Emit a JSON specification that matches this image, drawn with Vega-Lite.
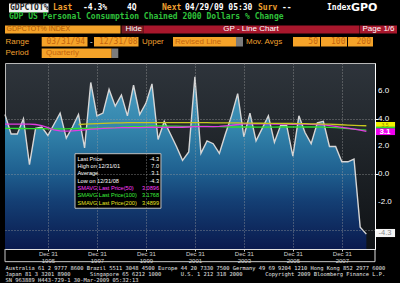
{
"$schema": "https://vega.github.io/schema/vega-lite/v6.json",
"background": "#000000",
"padding": {"left": 1, "top": 0, "right": 0, "bottom": 0},
"spacing": 0,
"config": {"view": {"stroke": null}, "font": "Liberation Sans", "axis": {"labelOverlap": false}},
"datasets": {
"gdp": [
{"date":"1994-03-31","value":4.3},{"date":"1994-06-30","value":2.9},{"date":"1994-09-30","value":2.9},{"date":"1994-12-31","value":4.0},
{"date":"1995-03-31","value":0.7},{"date":"1995-06-30","value":3.3},{"date":"1995-09-30","value":3.4},{"date":"1995-12-31","value":2.8},
{"date":"1996-03-31","value":3.6},{"date":"1996-06-30","value":4.4},{"date":"1996-09-30","value":2.6},{"date":"1996-12-31","value":3.4},
{"date":"1997-03-31","value":4.3},{"date":"1997-06-30","value":1.9},{"date":"1997-09-30","value":6.6},{"date":"1997-12-31","value":4.2},
{"date":"1998-03-31","value":4.4},{"date":"1998-06-30","value":6.1},{"date":"1998-09-30","value":4.9},{"date":"1998-12-31","value":5.7},
{"date":"1999-03-31","value":4.2},{"date":"1999-06-30","value":6.4},{"date":"1999-09-30","value":4.3},{"date":"1999-12-31","value":5.1},
{"date":"2000-03-31","value":6.5},{"date":"2000-06-30","value":2.5},{"date":"2000-09-30","value":3.8},{"date":"2000-12-31","value":2.9},
{"date":"2001-03-31","value":2.0},{"date":"2001-06-30","value":1.0},{"date":"2001-09-30","value":1.6},{"date":"2001-12-31","value":7.0},
{"date":"2002-03-31","value":1.5},{"date":"2002-06-30","value":2.4},{"date":"2002-09-30","value":2.2},{"date":"2002-12-31","value":1.5},
{"date":"2003-03-31","value":2.9},{"date":"2003-06-30","value":4.2},{"date":"2003-09-30","value":5.8},{"date":"2003-12-31","value":2.7},
{"date":"2004-03-31","value":4.4},{"date":"2004-06-30","value":2.4},{"date":"2004-09-30","value":3.3},{"date":"2004-12-31","value":4.2},
{"date":"2005-03-31","value":2.3},{"date":"2005-06-30","value":3.5},{"date":"2005-09-30","value":3.5},{"date":"2005-12-31","value":1.3},
{"date":"2006-03-31","value":4.2},{"date":"2006-06-30","value":3.0},{"date":"2006-09-30","value":2.2},{"date":"2006-12-31","value":3.7},
{"date":"2007-03-31","value":3.8},{"date":"2007-06-30","value":2.0},{"date":"2007-09-30","value":2.0},{"date":"2007-12-31","value":0.9},
{"date":"2008-03-31","value":0.9},{"date":"2008-06-30","value":1.1},{"date":"2008-09-30","value":-3.8},{"date":"2008-12-31","value":-4.3}
],
"ma": [
{"date":"1994-03-31","series":"100","value":3.30},{"date":"1994-06-30","series":"100","value":3.30},{"date":"1994-09-30","series":"100","value":3.29},{"date":"1994-12-31","series":"100","value":3.29},
{"date":"1995-03-31","series":"100","value":3.28},{"date":"1995-06-30","series":"100","value":3.28},{"date":"1995-09-30","series":"100","value":3.28},{"date":"1995-12-31","series":"100","value":3.27},
{"date":"1996-03-31","series":"100","value":3.27},{"date":"1996-06-30","series":"100","value":3.27},{"date":"1996-09-30","series":"100","value":3.27},{"date":"1996-12-31","series":"100","value":3.28},
{"date":"1997-03-31","series":"100","value":3.29},{"date":"1997-06-30","series":"100","value":3.30},{"date":"1997-09-30","series":"100","value":3.31},{"date":"1997-12-31","series":"100","value":3.32},
{"date":"1998-03-31","series":"100","value":3.33},{"date":"1998-06-30","series":"100","value":3.35},{"date":"1998-09-30","series":"100","value":3.36},{"date":"1998-12-31","series":"100","value":3.38},
{"date":"1999-03-31","series":"100","value":3.40},{"date":"1999-06-30","series":"100","value":3.42},{"date":"1999-09-30","series":"100","value":3.43},{"date":"1999-12-31","series":"100","value":3.45},
{"date":"2000-03-31","series":"100","value":3.47},{"date":"2000-06-30","series":"100","value":3.47},{"date":"2000-09-30","series":"100","value":3.47},{"date":"2000-12-31","series":"100","value":3.46},
{"date":"2001-03-31","series":"100","value":3.46},{"date":"2001-06-30","series":"100","value":3.45},{"date":"2001-09-30","series":"100","value":3.45},{"date":"2001-12-31","series":"100","value":3.46},
{"date":"2002-03-31","series":"100","value":3.45},{"date":"2002-06-30","series":"100","value":3.44},{"date":"2002-09-30","series":"100","value":3.43},{"date":"2002-12-31","series":"100","value":3.42},
{"date":"2003-03-31","series":"100","value":3.41},{"date":"2003-06-30","series":"100","value":3.40},{"date":"2003-09-30","series":"100","value":3.40},{"date":"2003-12-31","series":"100","value":3.40},
{"date":"2004-03-31","series":"100","value":3.40},{"date":"2004-06-30","series":"100","value":3.39},{"date":"2004-09-30","series":"100","value":3.39},{"date":"2004-12-31","series":"100","value":3.39},
{"date":"2005-03-31","series":"100","value":3.39},{"date":"2005-06-30","series":"100","value":3.40},{"date":"2005-09-30","series":"100","value":3.40},{"date":"2005-12-31","series":"100","value":3.40},
{"date":"2006-03-31","series":"100","value":3.40},{"date":"2006-06-30","series":"100","value":3.40},{"date":"2006-09-30","series":"100","value":3.40},{"date":"2006-12-31","series":"100","value":3.40},
{"date":"2007-03-31","series":"100","value":3.39},{"date":"2007-06-30","series":"100","value":3.37},{"date":"2007-09-30","series":"100","value":3.35},{"date":"2007-12-31","series":"100","value":3.32},
{"date":"2008-03-31","series":"100","value":3.29},{"date":"2008-06-30","series":"100","value":3.25},{"date":"2008-09-30","series":"100","value":3.21},{"date":"2008-12-31","series":"100","value":3.18},
{"date":"1994-03-31","series":"50","value":3.60},{"date":"1994-06-30","series":"50","value":3.60},{"date":"1994-09-30","series":"50","value":3.60},{"date":"1994-12-31","series":"50","value":3.60},
{"date":"1995-03-31","series":"50","value":3.60},{"date":"1995-06-30","series":"50","value":3.58},{"date":"1995-09-30","series":"50","value":3.50},{"date":"1995-12-31","series":"50","value":3.35},
{"date":"1996-03-31","series":"50","value":3.20},{"date":"1996-06-30","series":"50","value":3.12},{"date":"1996-09-30","series":"50","value":3.10},{"date":"1996-12-31","series":"50","value":3.12},
{"date":"1997-03-31","series":"50","value":3.15},{"date":"1997-06-30","series":"50","value":3.20},{"date":"1997-09-30","series":"50","value":3.24},{"date":"1997-12-31","series":"50","value":3.27},
{"date":"1998-03-31","series":"50","value":3.30},{"date":"1998-06-30","series":"50","value":3.32},{"date":"1998-09-30","series":"50","value":3.33},{"date":"1998-12-31","series":"50","value":3.35},
{"date":"1999-03-31","series":"50","value":3.35},{"date":"1999-06-30","series":"50","value":3.36},{"date":"1999-09-30","series":"50","value":3.36},{"date":"1999-12-31","series":"50","value":3.37},
{"date":"2000-03-31","series":"50","value":3.38},{"date":"2000-06-30","series":"50","value":3.37},{"date":"2000-09-30","series":"50","value":3.37},{"date":"2000-12-31","series":"50","value":3.38},
{"date":"2001-03-31","series":"50","value":3.38},{"date":"2001-06-30","series":"50","value":3.38},{"date":"2001-09-30","series":"50","value":3.40},{"date":"2001-12-31","series":"50","value":3.42},
{"date":"2002-03-31","series":"50","value":3.42},{"date":"2002-06-30","series":"50","value":3.43},{"date":"2002-09-30","series":"50","value":3.43},{"date":"2002-12-31","series":"50","value":3.45},
{"date":"2003-03-31","series":"50","value":3.48},{"date":"2003-06-30","series":"50","value":3.52},{"date":"2003-09-30","series":"50","value":3.58},{"date":"2003-12-31","series":"50","value":3.62},
{"date":"2004-03-31","series":"50","value":3.63},{"date":"2004-06-30","series":"50","value":3.62},{"date":"2004-09-30","series":"50","value":3.62},{"date":"2004-12-31","series":"50","value":3.62},
{"date":"2005-03-31","series":"50","value":3.61},{"date":"2005-06-30","series":"50","value":3.60},{"date":"2005-09-30","series":"50","value":3.60},{"date":"2005-12-31","series":"50","value":3.59},
{"date":"2006-03-31","series":"50","value":3.60},{"date":"2006-06-30","series":"50","value":3.60},{"date":"2006-09-30","series":"50","value":3.59},{"date":"2006-12-31","series":"50","value":3.58},
{"date":"2007-03-31","series":"50","value":3.56},{"date":"2007-06-30","series":"50","value":3.50},{"date":"2007-09-30","series":"50","value":3.44},{"date":"2007-12-31","series":"50","value":3.38},
{"date":"2008-03-31","series":"50","value":3.32},{"date":"2008-06-30","series":"50","value":3.25},{"date":"2008-09-30","series":"50","value":3.17},{"date":"2008-12-31","series":"50","value":3.09},
{"date":"1997-03-31","series":"200","value":3.58},{"date":"1997-06-30","series":"200","value":3.60},{"date":"1997-09-30","series":"200","value":3.62},{"date":"1997-12-31","series":"200","value":3.64},
{"date":"1998-03-31","series":"200","value":3.66},{"date":"1998-06-30","series":"200","value":3.68},{"date":"1998-09-30","series":"200","value":3.69},{"date":"1998-12-31","series":"200","value":3.70},
{"date":"1999-03-31","series":"200","value":3.71},{"date":"1999-06-30","series":"200","value":3.72},{"date":"1999-09-30","series":"200","value":3.72},{"date":"1999-12-31","series":"200","value":3.72},
{"date":"2000-03-31","series":"200","value":3.72},{"date":"2000-06-30","series":"200","value":3.72},{"date":"2000-09-30","series":"200","value":3.72},{"date":"2000-12-31","series":"200","value":3.72},
{"date":"2001-03-31","series":"200","value":3.72},{"date":"2001-06-30","series":"200","value":3.72},{"date":"2001-09-30","series":"200","value":3.71},{"date":"2001-12-31","series":"200","value":3.72},
{"date":"2002-03-31","series":"200","value":3.71},{"date":"2002-06-30","series":"200","value":3.71},{"date":"2002-09-30","series":"200","value":3.70},{"date":"2002-12-31","series":"200","value":3.70},
{"date":"2003-03-31","series":"200","value":3.70},{"date":"2003-06-30","series":"200","value":3.69},{"date":"2003-09-30","series":"200","value":3.69},{"date":"2003-12-31","series":"200","value":3.68},
{"date":"2004-03-31","series":"200","value":3.68},{"date":"2004-06-30","series":"200","value":3.67},{"date":"2004-09-30","series":"200","value":3.67},{"date":"2004-12-31","series":"200","value":3.66},
{"date":"2005-03-31","series":"200","value":3.66},{"date":"2005-06-30","series":"200","value":3.66},{"date":"2005-09-30","series":"200","value":3.65},{"date":"2005-12-31","series":"200","value":3.65},
{"date":"2006-03-31","series":"200","value":3.64},{"date":"2006-06-30","series":"200","value":3.64},{"date":"2006-09-30","series":"200","value":3.63},{"date":"2006-12-31","series":"200","value":3.62},
{"date":"2007-03-31","series":"200","value":3.61},{"date":"2007-06-30","series":"200","value":3.60},{"date":"2007-09-30","series":"200","value":3.58},{"date":"2007-12-31","series":"200","value":3.56},
{"date":"2008-03-31","series":"200","value":3.54},{"date":"2008-06-30","series":"200","value":3.52},{"date":"2008-09-30","series":"200","value":3.50},{"date":"2008-12-31","series":"200","value":3.49}
]
},
"vconcat": [
{
"width": 395, "height": 62,
"view": {"stroke": null},
"data": {"values": [{}]},
"layer": [
{"mark": {"type": "rect", "fill": "#f0f0f0"}, "encoding": {"x": {"datum": 1.01, "type": "quantitative", "scale": {"domain": [0, 100]}, "axis": null}, "x2": {"datum": 11.01}, "y": {"datum": 5.65, "type": "quantitative", "scale": {"domain": [0, 100], "reverse": true}, "axis": null}, "y2": {"datum": 20.16}}},
{"mark": {"type": "rect", "fill": "#f5a329"}, "encoding": {"x": {"datum": 0, "type": "quantitative", "axis": null}, "x2": {"datum": 29.24}, "y": {"datum": 41.13, "type": "quantitative", "axis": null}, "y2": {"datum": 54.03}}},
{"mark": {"type": "rect", "fill": "#7a1b22"}, "encoding": {"x": {"datum": 29.49, "type": "quantitative", "axis": null}, "x2": {"datum": 35.06}, "y": {"datum": 41.13, "type": "quantitative", "axis": null}, "y2": {"datum": 54.03}}},
{"mark": {"type": "rect", "fill": "#a8172c"}, "encoding": {"x": {"datum": 35.06, "type": "quantitative", "axis": null}, "x2": {"datum": 89.62}, "y": {"datum": 41.13, "type": "quantitative", "axis": null}, "y2": {"datum": 54.03}}},
{"mark": {"type": "rect", "fill": "#a8172c"}, "encoding": {"x": {"datum": 89.75, "type": "quantitative", "axis": null}, "x2": {"datum": 99.24}, "y": {"datum": 41.13, "type": "quantitative", "axis": null}, "y2": {"datum": 54.03}}},
{"mark": {"type": "rect", "fill": "#f5a329"}, "encoding": {"x": {"datum": 9.29, "type": "quantitative", "axis": null}, "x2": {"datum": 20.89}, "y": {"datum": 59.68, "type": "quantitative", "axis": null}, "y2": {"datum": 75.0}}},
{"mark": {"type": "rect", "fill": "#f5a329"}, "encoding": {"x": {"datum": 22.53, "type": "quantitative", "axis": null}, "x2": {"datum": 33.8}, "y": {"datum": 59.68, "type": "quantitative", "axis": null}, "y2": {"datum": 75.0}}},
{"mark": {"type": "rect", "fill": "#f5a329"}, "encoding": {"x": {"datum": 42.53, "type": "quantitative", "axis": null}, "x2": {"datum": 58.48}, "y": {"datum": 59.68, "type": "quantitative", "axis": null}, "y2": {"datum": 75.0}}},
{"mark": {"type": "rect", "fill": "#7c7c7c"}, "encoding": {"x": {"datum": 58.48, "type": "quantitative", "axis": null}, "x2": {"datum": 60.25}, "y": {"datum": 59.68, "type": "quantitative", "axis": null}, "y2": {"datum": 75.0}}},
{"mark": {"type": "rect", "fill": "#f5a329"}, "encoding": {"x": {"datum": 72.91, "type": "quantitative", "axis": null}, "x2": {"datum": 79.75}, "y": {"datum": 59.68, "type": "quantitative", "axis": null}, "y2": {"datum": 75.0}}},
{"mark": {"type": "rect", "fill": "#f5a329"}, "encoding": {"x": {"datum": 80.0, "type": "quantitative", "axis": null}, "x2": {"datum": 86.58}, "y": {"datum": 59.68, "type": "quantitative", "axis": null}, "y2": {"datum": 75.0}}},
{"mark": {"type": "rect", "fill": "#f5a329"}, "encoding": {"x": {"datum": 86.84, "type": "quantitative", "axis": null}, "x2": {"datum": 93.16}, "y": {"datum": 59.68, "type": "quantitative", "axis": null}, "y2": {"datum": 75.0}}},
{"mark": {"type": "rect", "fill": "#f5a329"}, "encoding": {"x": {"datum": 9.29, "type": "quantitative", "axis": null}, "x2": {"datum": 27.01}, "y": {"datum": 78.23, "type": "quantitative", "axis": null}, "y2": {"datum": 93.55}}},
{"mark": {"type": "rect", "fill": "#7c7c7c"}, "encoding": {"x": {"datum": 27.01, "type": "quantitative", "axis": null}, "x2": {"datum": 28.68}, "y": {"datum": 78.23, "type": "quantitative", "axis": null}, "y2": {"datum": 93.55}}},
{"mark": {"type": "text", "text": "GDPCTOT%", "font": "DejaVu Sans Mono", "fontWeight": "bold", "fontSize": 8, "fill": "#202020", "align": "left", "baseline": "middle"}, "encoding": {"x": {"datum": 1.27, "type": "quantitative", "axis": null}, "y": {"datum": 12.9, "type": "quantitative", "axis": null}}},
{"mark": {"type": "text", "text": "Last", "font": "DejaVu Sans Mono", "fontWeight": "bold", "fontSize": 8, "fill": "#f0a030", "align": "left", "baseline": "middle"}, "encoding": {"x": {"datum": 12.15, "type": "quantitative", "axis": null}, "y": {"datum": 12.9, "type": "quantitative", "axis": null}}},
{"mark": {"type": "text", "text": "-4.3%", "font": "DejaVu Sans Mono", "fontWeight": "bold", "fontSize": 8, "fill": "#ffffff", "align": "left", "baseline": "middle"}, "encoding": {"x": {"datum": 19.75, "type": "quantitative", "axis": null}, "y": {"datum": 12.9, "type": "quantitative", "axis": null}}},
{"mark": {"type": "text", "text": "4Q", "font": "DejaVu Sans Mono", "fontWeight": "bold", "fontSize": 8, "fill": "#ffffff", "align": "left", "baseline": "middle"}, "encoding": {"x": {"datum": 30.89, "type": "quantitative", "axis": null}, "y": {"datum": 12.9, "type": "quantitative", "axis": null}}},
{"mark": {"type": "text", "text": "Next", "font": "DejaVu Sans Mono", "fontWeight": "bold", "fontSize": 8, "fill": "#f0a030", "align": "left", "baseline": "middle"}, "encoding": {"x": {"datum": 39.75, "type": "quantitative", "axis": null}, "y": {"datum": 12.9, "type": "quantitative", "axis": null}}},
{"mark": {"type": "text", "text": "04/29/09 05:30", "font": "DejaVu Sans Mono", "fontWeight": "bold", "fontSize": 8, "fill": "#ffffff", "align": "left", "baseline": "middle"}, "encoding": {"x": {"datum": 45.57, "type": "quantitative", "axis": null}, "y": {"datum": 12.9, "type": "quantitative", "axis": null}}},
{"mark": {"type": "text", "text": "Surv", "font": "DejaVu Sans Mono", "fontWeight": "bold", "fontSize": 8, "fill": "#f0a030", "align": "left", "baseline": "middle"}, "encoding": {"x": {"datum": 64.05, "type": "quantitative", "axis": null}, "y": {"datum": 12.9, "type": "quantitative", "axis": null}}},
{"mark": {"type": "text", "text": "--", "font": "DejaVu Sans Mono", "fontWeight": "bold", "fontSize": 8, "fill": "#ffffff", "align": "left", "baseline": "middle"}, "encoding": {"x": {"datum": 70.13, "type": "quantitative", "axis": null}, "y": {"datum": 12.9, "type": "quantitative", "axis": null}}},
{"mark": {"type": "text", "text": "Index", "font": "DejaVu Sans Mono", "fontWeight": "bold", "fontSize": 8, "fill": "#ffffff", "align": "left", "baseline": "middle"}, "encoding": {"x": {"datum": 81.52, "type": "quantitative", "axis": null}, "y": {"datum": 12.9, "type": "quantitative", "axis": null}}},
{"mark": {"type": "text", "text": "GPO", "font": "DejaVu Sans", "fontWeight": "bold", "fontSize": 11, "fill": "#ffffff", "align": "left", "baseline": "middle"}, "encoding": {"x": {"datum": 87.6, "type": "quantitative", "axis": null}, "y": {"datum": 13.7, "type": "quantitative", "axis": null}}},
{"mark": {"type": "text", "text": "GDP US Personal Consumption Chained 2000 Dollars % Change", "font": "DejaVu Sans Mono", "fontWeight": "bold", "fontSize": 8, "fill": "#2fc23b", "align": "left", "baseline": "middle"}, "encoding": {"x": {"datum": 1.01, "type": "quantitative", "axis": null}, "y": {"datum": 27.42, "type": "quantitative", "axis": null}}},
{"mark": {"type": "text", "text": "GDPCTOT% INDEX", "fontSize": 7, "fill": "#b05a08", "align": "left", "baseline": "middle"}, "encoding": {"x": {"datum": 0.38, "type": "quantitative", "axis": null}, "y": {"datum": 47.58, "type": "quantitative", "axis": null}}},
{"mark": {"type": "text", "text": "Hide", "fontSize": 8, "fill": "#ffffff", "align": "left", "baseline": "middle"}, "encoding": {"x": {"datum": 30.51, "type": "quantitative", "axis": null}, "y": {"datum": 47.58, "type": "quantitative", "axis": null}}},
{"mark": {"type": "text", "text": "GP - Line Chart", "fontSize": 8, "fill": "#ffffff", "align": "center", "baseline": "middle"}, "encoding": {"x": {"datum": 62.28, "type": "quantitative", "axis": null}, "y": {"datum": 47.58, "type": "quantitative", "axis": null}}},
{"mark": {"type": "text", "text": "Page 1/6", "fontSize": 8, "fill": "#ffffff", "align": "left", "baseline": "middle"}, "encoding": {"x": {"datum": 90.51, "type": "quantitative", "axis": null}, "y": {"datum": 47.58, "type": "quantitative", "axis": null}}},
{"mark": {"type": "text", "text": "Range", "fontSize": 8, "fill": "#f0a030", "align": "left", "baseline": "middle"}, "encoding": {"x": {"datum": 0.13, "type": "quantitative", "axis": null}, "y": {"datum": 67.26, "type": "quantitative", "axis": null}}},
{"mark": {"type": "text", "text": "03/31/94", "font": "DejaVu Sans Mono", "fontSize": 8, "fill": "#c4650e", "align": "left", "baseline": "middle"}, "encoding": {"x": {"datum": 10.51, "type": "quantitative", "axis": null}, "y": {"datum": 67.26, "type": "quantitative", "axis": null}}},
{"mark": {"type": "text", "text": "-", "fontSize": 8, "fill": "#ffffff", "align": "left", "baseline": "middle"}, "encoding": {"x": {"datum": 21.52, "type": "quantitative", "axis": null}, "y": {"datum": 67.26, "type": "quantitative", "axis": null}}},
{"mark": {"type": "text", "text": "12/31/08", "font": "DejaVu Sans Mono", "fontSize": 8, "fill": "#c4650e", "align": "left", "baseline": "middle"}, "encoding": {"x": {"datum": 23.8, "type": "quantitative", "axis": null}, "y": {"datum": 67.26, "type": "quantitative", "axis": null}}},
{"mark": {"type": "text", "text": "Upper", "fontSize": 8, "fill": "#f0a030", "align": "left", "baseline": "middle"}, "encoding": {"x": {"datum": 34.68, "type": "quantitative", "axis": null}, "y": {"datum": 67.26, "type": "quantitative", "axis": null}}},
{"mark": {"type": "text", "text": "Revised Line", "fontSize": 8, "fill": "#c4650e", "align": "left", "baseline": "middle"}, "encoding": {"x": {"datum": 43.04, "type": "quantitative", "axis": null}, "y": {"datum": 67.26, "type": "quantitative", "axis": null}}},
{"mark": {"type": "text", "text": "Mov. Avgs", "fontSize": 8, "fill": "#f0a030", "align": "left", "baseline": "middle"}, "encoding": {"x": {"datum": 61.01, "type": "quantitative", "axis": null}, "y": {"datum": 67.26, "type": "quantitative", "axis": null}}},
{"mark": {"type": "text", "text": "50", "font": "DejaVu Sans Mono", "fontSize": 8, "fill": "#c4650e", "align": "right", "baseline": "middle"}, "encoding": {"x": {"datum": 79.24, "type": "quantitative", "axis": null}, "y": {"datum": 67.26, "type": "quantitative", "axis": null}}},
{"mark": {"type": "text", "text": "100", "font": "DejaVu Sans Mono", "fontSize": 8, "fill": "#c4650e", "align": "right", "baseline": "middle"}, "encoding": {"x": {"datum": 86.2, "type": "quantitative", "axis": null}, "y": {"datum": 67.26, "type": "quantitative", "axis": null}}},
{"mark": {"type": "text", "text": "200", "font": "DejaVu Sans Mono", "fontSize": 8, "fill": "#c4650e", "align": "right", "baseline": "middle"}, "encoding": {"x": {"datum": 92.66, "type": "quantitative", "axis": null}, "y": {"datum": 67.26, "type": "quantitative", "axis": null}}},
{"mark": {"type": "text", "text": "Period", "fontSize": 8, "fill": "#f0a030", "align": "left", "baseline": "middle"}, "encoding": {"x": {"datum": 0.13, "type": "quantitative", "axis": null}, "y": {"datum": 85.97, "type": "quantitative", "axis": null}}},
{"mark": {"type": "text", "text": "Quarterly", "fontSize": 8, "fill": "#c4650e", "align": "left", "baseline": "middle"}, "encoding": {"x": {"datum": 10.38, "type": "quantitative", "axis": null}, "y": {"datum": 85.97, "type": "quantitative", "axis": null}}}
]
},
{
"width": 370, "height": 186,
"view": {"stroke": "#b8b8b8", "strokeWidth": 1, "fill": {"gradient": "linear", "x1": 0, "y1": 0, "x2": 0, "y2": 1, "stops": [{"offset": 0, "color": "#2e343b"}, {"offset": 0.45, "color": "#20252a"}, {"offset": 1, "color": "#0f1215"}]}},
"data": {"values": [{}]},
"layer": [
{"data": {"name": "gdp"},
 "mark": {"type": "area", "color": {"gradient": "linear", "x1": 0, "y1": 0, "x2": 0, "y2": 1, "stops": [{"offset": 0, "color": "#4c9ec2"}, {"offset": 0.3, "color": "#3385ac"}, {"offset": 0.55, "color": "#1f6090"}, {"offset": 0.72, "color": "#143f74"}, {"offset": 1, "color": "#0a1a4e"}]}},
 "encoding": {
  "x": {"field": "date", "type": "temporal",
   "scale": {"type": "utc", "domain": [{"year": 1994, "month": 3, "date": 31, "utc": true}, {"year": 2009, "month": 5, "date": 9, "utc": true}], "nice": false},
   "axis": {
    "values": [{"year":1995,"month":12,"date":31,"utc":true},{"year":1997,"month":12,"date":31,"utc":true},{"year":1999,"month":12,"date":31,"utc":true},{"year":2001,"month":12,"date":31,"utc":true},{"year":2003,"month":12,"date":31,"utc":true},{"year":2005,"month":12,"date":31,"utc":true},{"year":2007,"month":12,"date":31,"utc":true}],
    "labelExpr": "['Dec 31', '' + utcyear(datum.value)]",
    "labelOverlap": false, "labelFlush": false,
    "labelFont": "Liberation Sans", "labelFontSize": 6, "labelColor": "#d0d0d0", "labelLineHeight": 7, "labelBaseline": "top", "labelPadding": -1,
    "tickColor": "#d0d0d0", "tickSize": 2, "domainColor": "#e0e0e0",
    "grid": true, "gridColor": "#a0a0a0", "gridDash": [1, 2], "gridOpacity": 0.75,
    "zindex": 1,
    "title": ["Australia 61 2 9777 8600 Brazil 5511 3048 4500 Europe 44 20 7330 7500 Germany 49 69 9204 1210 Hong Kong 852 2977 6000", "Japan 81 3 3201 8900\u00a0\u00a0\u00a0\u00a0\u00a0\u00a0Singapore 65 6212 1000\u00a0\u00a0\u00a0\u00a0\u00a0\u00a0U.S. 1 212 318 2000\u00a0\u00a0\u00a0\u00a0\u00a0\u00a0\u00a0Copyright 2009 Bloomberg Finance L.P.", "\u00a0\u00a0\u00a0\u00a0\u00a0\u00a0\u00a0\u00a0\u00a0\u00a0\u00a0\u00a0\u00a0\u00a0\u00a0\u00a0\u00a0\u00a0\u00a0\u00a0\u00a0\u00a0\u00a0\u00a0\u00a0\u00a0\u00a0\u00a0\u00a0\u00a0\u00a0\u00a0\u00a0\u00a0\u00a0\u00a0\u00a0\u00a0\u00a0\u00a0\u00a0\u00a0\u00a0\u00a0\u00a0\u00a0\u00a0\u00a0\u00a0\u00a0\u00a0\u00a0\u00a0\u00a0\u00a0\u00a0\u00a0\u00a0\u00a0\u00a0\u00a0\u00a0\u00a0\u00a0\u00a0\u00a0\u00a0\u00a0\u00a0\u00a0\u00a0\u00a0\u00a0\u00a0\u00a0\u00a0SN 963889 H443-729-1 30-Mar-2009 05:32:13"],
    "titleFont": "DejaVu Sans Mono", "titleFontSize": 5.4, "titleFontWeight": "normal", "titleColor": "#e4e4e4", "titleLineHeight": 6, "titleAnchor": "start", "titleAlign": "left", "titlePadding": 2
   }},
  "y": {"field": "value", "type": "quantitative",
   "scale": {"domain": [-5.37, 8.0], "nice": false, "zero": false},
   "axis": {"orient": "right", "values": [-4, -2, 0, 2, 4, 6], "labels": false,
    "tickColor": "#ffffff", "tickSize": 3, "domainColor": "#ffffff",
    "grid": true, "gridColor": "#a0a0a0", "gridDash": [1, 2], "gridOpacity": 0.75, "title": null, "zindex": 1}},
  "y2": {"datum": -5.37}
 }},
{"data": {"name": "gdp"},
 "mark": {"type": "line", "stroke": "#d6d6d6", "strokeWidth": 1.4},
 "encoding": {"x": {"field": "date", "type": "temporal"}, "y": {"field": "value", "type": "quantitative"}}},
{"data": {"name": "ma"},
 "mark": {"type": "line", "strokeWidth": 1.3},
 "encoding": {"x": {"field": "date", "type": "temporal"}, "y": {"field": "value", "type": "quantitative"},
  "color": {"field": "series", "type": "nominal", "scale": {"domain": ["100", "50", "200"], "range": ["#2ee02e", "#e23ce2", "#c8c81e"]}, "legend": null}}},
{"mark": {"type": "rule", "stroke": "#c8c8c8", "strokeWidth": 1},
 "encoding": {"x": {"datum": {"year": 1994, "month": 3, "date": 31, "utc": true}, "type": "temporal"}, "x2": {"datum": {"year": 2009, "month": 5, "date": 9, "utc": true}}, "y": {"datum": -6.28, "type": "quantitative"}}},
{"mark": {"type": "rule", "stroke": "#c8c8c8", "strokeWidth": 1},
 "encoding": {"x": {"datum": {"year": 1994, "month": 3, "date": 31, "utc": true}, "type": "temporal"}, "y": {"datum": -5.37, "type": "quantitative"}, "y2": {"datum": -6.28}}},
{"mark": {"type": "rule", "stroke": "#e0e0e0", "strokeWidth": 1},
 "encoding": {"x": {"datum": {"year": 2009, "month": 5, "date": 9, "utc": true}, "type": "temporal"}, "y": {"datum": -5.37, "type": "quantitative"}, "y2": {"datum": -6.28}}},
{"mark": {"type": "rect", "fill": "#000000", "stroke": "#c0c0c0", "strokeWidth": 1},
 "encoding": {"x": {"datum": {"year": 1997, "month": 2, "date": 7, "utc": true}, "type": "temporal"}, "x2": {"datum": {"year": 2000, "month": 8, "date": 12, "utc": true}}, "y": {"datum": 1.48, "type": "quantitative"}, "y2": {"datum": -2.44}}},
{"mark": {"type": "text", "text": ["Last Price", "High on 12/31/01", "Average", "Low on 12/31/08"], "fontSize": 5.6, "lineHeight": 7.3, "fill": "#ffffff", "align": "left", "baseline": "middle"},
 "encoding": {"x": {"datum": {"year": 1997, "month": 3, "date": 16, "utc": true}, "type": "temporal"}, "y": {"datum": 1.12, "type": "quantitative"}}},
{"mark": {"type": "text", "text": ["-4.3", "7.0", "3.1", "-4.3"], "fontSize": 5.6, "lineHeight": 7.3, "fill": "#ffffff", "align": "right", "baseline": "middle"},
 "encoding": {"x": {"datum": {"year": 2000, "month": 7, "date": 14, "utc": true}, "type": "temporal"}, "y": {"datum": 1.12, "type": "quantitative"}}},
{"mark": {"type": "text", "text": "SMAVG Last Price(50)", "fontSize": 5.6, "fill": "#ff3cff", "align": "left", "baseline": "middle"},
 "encoding": {"x": {"datum": {"year": 1997, "month": 3, "date": 16, "utc": true}, "type": "temporal"}, "y": {"datum": -0.98, "type": "quantitative"}}},
{"mark": {"type": "text", "text": "3.0896", "fontSize": 5.6, "fill": "#ff3cff", "align": "right", "baseline": "middle"},
 "encoding": {"x": {"datum": {"year": 2000, "month": 7, "date": 14, "utc": true}, "type": "temporal"}, "y": {"datum": -0.98, "type": "quantitative"}}},
{"mark": {"type": "text", "text": "SMAVG Last Price(100)", "fontSize": 5.6, "fill": "#3cf03c", "align": "left", "baseline": "middle"},
 "encoding": {"x": {"datum": {"year": 1997, "month": 3, "date": 16, "utc": true}, "type": "temporal"}, "y": {"datum": -1.50, "type": "quantitative"}}},
{"mark": {"type": "text", "text": "3.1768", "fontSize": 5.6, "fill": "#3cf03c", "align": "right", "baseline": "middle"},
 "encoding": {"x": {"datum": {"year": 2000, "month": 7, "date": 14, "utc": true}, "type": "temporal"}, "y": {"datum": -1.50, "type": "quantitative"}}},
{"mark": {"type": "text", "text": "SMAVG Last Price(200)", "fontSize": 5.6, "fill": "#e6e620", "align": "left", "baseline": "middle"},
 "encoding": {"x": {"datum": {"year": 1997, "month": 3, "date": 16, "utc": true}, "type": "temporal"}, "y": {"datum": -2.03, "type": "quantitative"}}},
{"mark": {"type": "text", "text": "3.4899", "fontSize": 5.6, "fill": "#e6e620", "align": "right", "baseline": "middle"},
 "encoding": {"x": {"datum": {"year": 2000, "month": 7, "date": 14, "utc": true}, "type": "temporal"}, "y": {"datum": -2.03, "type": "quantitative"}}},
{"mark": {"type": "text", "text": "6.0", "fontSize": 8, "fill": "#ffffff", "align": "left", "baseline": "middle"},
 "encoding": {"x": {"datum": {"year": 2009, "month": 6, "date": 23, "utc": true}, "type": "temporal"}, "y": {"datum": 6, "type": "quantitative"}}},
{"mark": {"type": "text", "text": "4.0", "fontSize": 8, "fill": "#ffffff", "align": "left", "baseline": "middle"},
 "encoding": {"x": {"datum": {"year": 2009, "month": 6, "date": 23, "utc": true}, "type": "temporal"}, "y": {"datum": 4, "type": "quantitative"}}},
{"mark": {"type": "text", "text": "2.0", "fontSize": 8, "fill": "#ffffff", "align": "left", "baseline": "middle"},
 "encoding": {"x": {"datum": {"year": 2009, "month": 6, "date": 23, "utc": true}, "type": "temporal"}, "y": {"datum": 2, "type": "quantitative"}}},
{"mark": {"type": "text", "text": "0.0", "fontSize": 8, "fill": "#ffffff", "align": "left", "baseline": "middle"},
 "encoding": {"x": {"datum": {"year": 2009, "month": 6, "date": 23, "utc": true}, "type": "temporal"}, "y": {"datum": 0, "type": "quantitative"}}},
{"mark": {"type": "text", "text": "-2.0", "fontSize": 8, "fill": "#ffffff", "align": "left", "baseline": "middle"},
 "encoding": {"x": {"datum": {"year": 2009, "month": 6, "date": 23, "utc": true}, "type": "temporal"}, "y": {"datum": -2, "type": "quantitative"}}},
{"mark": {"type": "rect", "fill": "#2ee02e"},
 "encoding": {"x": {"datum": {"year": 2009, "month": 5, "date": 24, "utc": true}, "type": "temporal"}, "x2": {"datum": {"year": 2010, "month": 3, "date": 4, "utc": true}}, "y": {"datum": 3.45, "type": "quantitative"}, "y2": {"datum": 3.28}}},
{"mark": {"type": "rect", "fill": "#f2f200"},
 "encoding": {"x": {"datum": {"year": 2009, "month": 5, "date": 24, "utc": true}, "type": "temporal"}, "x2": {"datum": {"year": 2010, "month": 3, "date": 4, "utc": true}}, "y": {"datum": 3.76, "type": "quantitative"}, "y2": {"datum": 3.42}}},
{"mark": {"type": "rect", "fill": "#f000f0"},
 "encoding": {"x": {"datum": {"year": 2009, "month": 5, "date": 24, "utc": true}, "type": "temporal"}, "x2": {"datum": {"year": 2010, "month": 3, "date": 4, "utc": true}}, "y": {"datum": 3.30, "type": "quantitative"}, "y2": {"datum": 2.82}}},
{"mark": {"type": "rect", "fill": "#f4f4f4"},
 "encoding": {"x": {"datum": {"year": 2009, "month": 5, "date": 24, "utc": true}, "type": "temporal"}, "x2": {"datum": {"year": 2010, "month": 3, "date": 4, "utc": true}}, "y": {"datum": -3.93, "type": "quantitative"}, "y2": {"datum": -4.51}}},
{"mark": {"type": "text", "text": "3.1", "fontSize": 8, "fontWeight": "bold", "fill": "#ffffff", "align": "center", "baseline": "middle"},
 "encoding": {"x": {"datum": {"year": 2009, "month": 10, "date": 5, "utc": true}, "type": "temporal"}, "y": {"datum": 3.06, "type": "quantitative"}}},
{"mark": {"type": "text", "text": "3.5", "fontSize": 5, "fill": "#8a8a00", "align": "center", "baseline": "middle"},
 "encoding": {"x": {"datum": {"year": 2009, "month": 10, "date": 5, "utc": true}, "type": "temporal"}, "y": {"datum": 3.57, "type": "quantitative"}}},
{"mark": {"type": "text", "text": "-4.3", "fontSize": 7.5, "fill": "#8a8a8a", "align": "center", "baseline": "middle"},
 "encoding": {"x": {"datum": {"year": 2009, "month": 10, "date": 5, "utc": true}, "type": "temporal"}, "y": {"datum": -4.22, "type": "quantitative"}}}
]
}
]
}
